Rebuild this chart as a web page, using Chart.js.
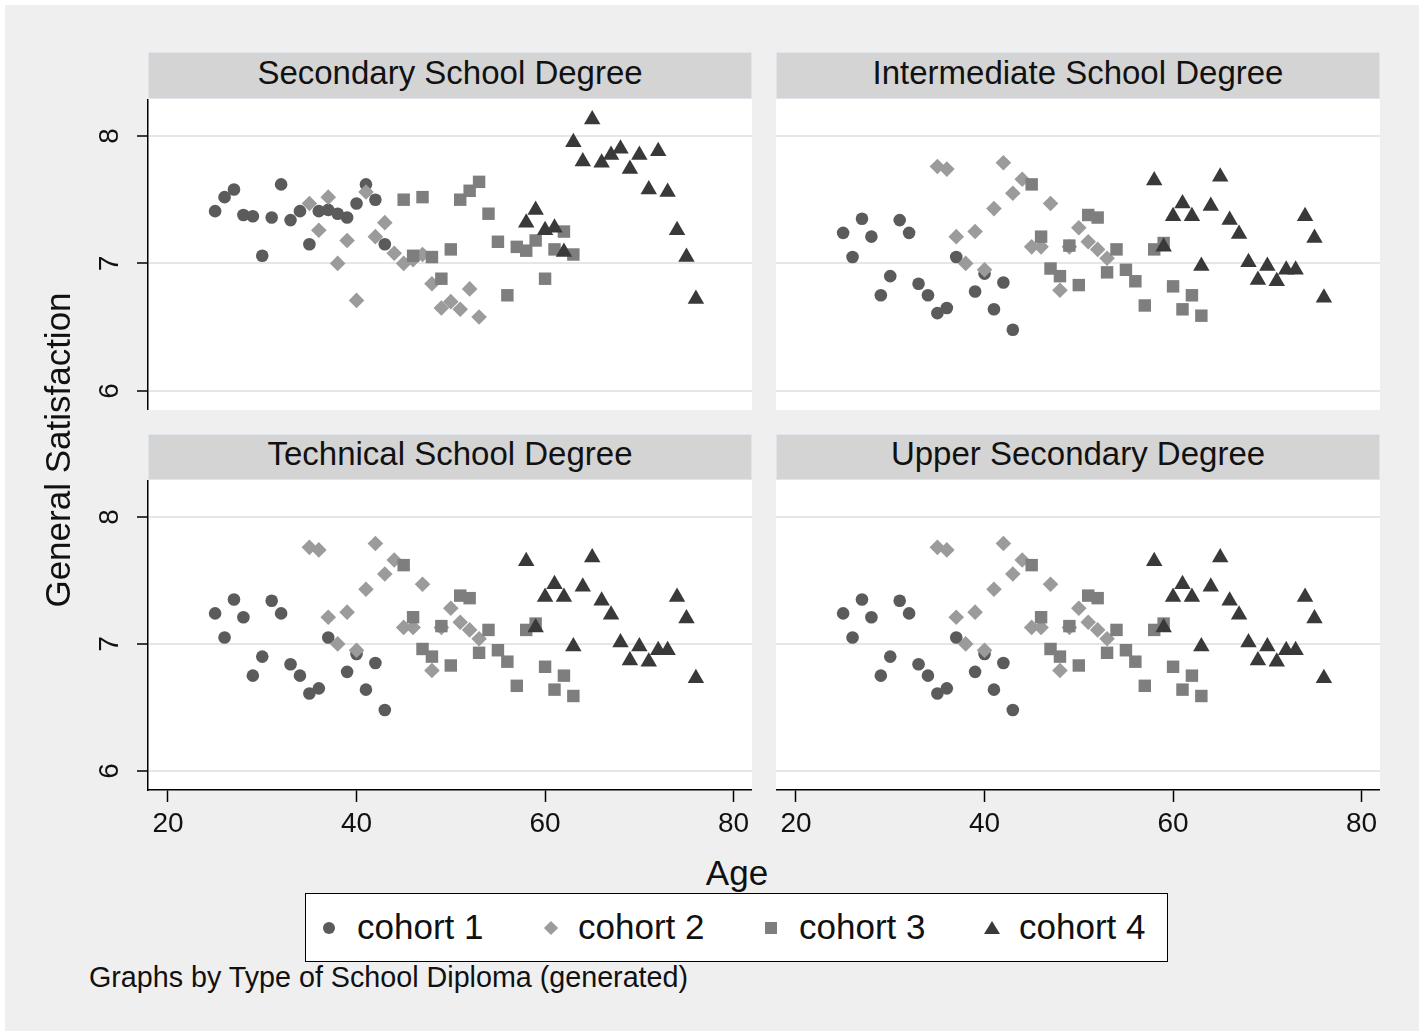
<!DOCTYPE html>
<html>
<head>
<meta charset="utf-8">
<script src="https://cdn.jsdelivr.net/npm/chart.js@4.4.1/dist/chart.umd.min.js"></script>
<style>
  body { margin: 0; background: #fff; font-family: 'Liberation Sans', Arial, sans-serif; color: #111; }
  #frame { position: absolute; left: 5px; top: 5px; width: 1414px; height: 1026px; background: #efefef; }
  .strip { position: absolute; width: 604px; background: #d4d4d4; border: 1px solid #e0e5eb; box-sizing: border-box; font-size: 33px; text-align: center; }
  .plot { position: absolute; width: 604px; height: 311px; background: #fff; }
  canvas { position: absolute; }
  .txt { position: absolute; white-space: nowrap; }
  #legend { position: absolute; left: 305px; top: 893px; width: 863px; height: 69px; background: #fff; border: 1.5px solid #000; box-sizing: border-box; }
  .mk { position: absolute; }
  .lt { position: absolute; top: 10px; font-size: 35px; line-height: 45px; }
</style>
</head>
<body>
<div id="frame"></div>

<div class="strip" style="left:148px;top:52px;height:47px;line-height:40px;">Secondary School Degree</div>
<div class="strip" style="left:776px;top:52px;height:47px;line-height:40px;">Intermediate School Degree</div>
<div class="strip" style="left:148px;top:434px;height:46px;line-height:37px;">Technical School Degree</div>
<div class="strip" style="left:776px;top:434px;height:46px;line-height:37px;">Upper Secondary Degree</div>

<div class="plot" style="left:148px;top:99px;"></div>
<div class="plot" style="left:776px;top:99px;"></div>
<div class="plot" style="left:148px;top:480px;height:310px;"></div>
<div class="plot" style="left:776px;top:480px;height:310px;"></div>

<canvas id="p1" width="682" height="311" style="left:70px;top:99px;"></canvas>
<canvas id="p2" width="604" height="311" style="left:776px;top:99px;"></canvas>
<canvas id="p3" width="682" height="360" style="left:70px;top:480px;"></canvas>
<canvas id="p4" width="604" height="360" style="left:776px;top:480px;"></canvas>

<div class="txt" style="left:-242px;top:430px;width:600px;height:40px;line-height:40px;text-align:center;font-size:35px;transform:rotate(-90deg);">General Satisfaction</div>
<div class="txt" style="left:637px;top:853px;width:200px;height:40px;line-height:40px;text-align:center;font-size:35px;">Age</div>

<div id="legend">
  <div class="mk" style="left:17px;top:28px;width:12px;height:12px;border-radius:50%;background:#5b5b5b;"></div>
  <div class="lt" style="left:51px;">cohort 1</div>
  <div class="mk" style="left:240px;top:29px;width:10px;height:10px;background:#9b9b9b;transform:rotate(45deg);"></div>
  <div class="lt" style="left:272px;">cohort 2</div>
  <div class="mk" style="left:459px;top:28px;width:12px;height:12px;background:#7e7e7e;"></div>
  <div class="lt" style="left:493px;">cohort 3</div>
  <div class="mk" style="left:678px;top:27px;width:0;height:0;border-left:8px solid transparent;border-right:8px solid transparent;border-bottom:13px solid #393939;"></div>
  <div class="lt" style="left:713px;">cohort 4</div>
</div>

<div class="txt" style="left:89px;top:961px;font-size:28.7px;line-height:32px;">Graphs by Type of School Diploma (generated)</div>

<script>
// panel titles (drawn in the strips above)
const panelTitles = ['Secondary School Degree', 'Intermediate School Degree', 'Technical School Degree', 'Upper Secondary Degree'];
const cohortNames = ['cohort 1', 'cohort 2', 'cohort 3', 'cohort 4'];
const xTicks = [20, 40, 60, 80];
const yTicks = [6, 7, 8];

// Secondary School Degree
const secAge1 = [25,26,27,28,29,30,31,32,33,34,35,36,37,38,39,40,41,42,43];
const secSat1 = [7.41,7.52,7.58,7.38,7.37,7.06,7.36,7.62,7.34,7.41,7.15,7.41,7.42,7.39,7.36,7.47,7.62,7.50,7.15];
const secAge2 = [35,36,37,38,39,40,41,42,43,44,45,46,47,48,49,50,51,52,53];
const secSat2 = [7.47,7.26,7.52,7.00,7.18,6.71,7.56,7.21,7.32,7.08,7.00,7.03,7.07,6.84,6.65,6.70,6.64,6.80,6.58];
const secAge3 = [45,46,47,48,49,50,51,52,53,54,55,56,57,58,59,60,61,62,63];
const secSat3 = [7.50,7.06,7.52,7.05,6.88,7.11,7.50,7.57,7.64,7.39,7.17,6.75,7.13,7.10,7.18,6.88,7.11,7.25,7.07];
const secAge4 = [58,59,60,61,62,63,64,65,66,67,68,69,70,71,72,73,74,75,76];
const secSat4 = [7.32,7.42,7.26,7.28,7.09,7.95,7.80,8.13,7.79,7.85,7.90,7.74,7.85,7.58,7.88,7.56,7.26,7.05,6.72];

// Intermediate / Technical / Upper Secondary (same values in all three panels)
const othAge1 = [25,26,27,28,29,30,31,32,33,34,35,36,37,39,40,41,42,43];
const othSat1 = [7.24,7.05,7.35,7.21,6.75,6.90,7.34,7.24,6.84,6.75,6.61,6.65,7.05,6.78,6.92,6.64,6.85,6.48];
const othAge2 = [35,36,37,38,39,40,41,42,43,44,45,46,47,48,49,50,51,52,53];
const othSat2 = [7.76,7.74,7.21,7.00,7.25,6.95,7.43,7.79,7.55,7.66,7.13,7.13,7.47,6.79,7.13,7.28,7.17,7.11,7.04];
const othAge3 = [45,46,47,48,49,50,51,52,53,54,55,56,57,58,59,60,61,62,63];
const othSat3 = [7.62,7.21,6.96,6.90,7.14,6.83,7.38,7.36,6.93,7.11,6.95,6.86,6.67,7.11,7.16,6.82,6.64,6.75,6.59];
const othAge4 = [58,59,60,61,62,63,64,65,66,67,68,69,70,71,72,73,74,75,76];
const othSat4 = [7.65,7.13,7.37,7.47,7.37,6.98,7.45,7.68,7.34,7.23,7.01,6.87,6.98,6.86,6.95,6.95,7.37,7.20,6.73];

const markerStyles = ['circle', 'rectRot', 'rect', 'triangle'];
const markerSizes = [6.3, 7.8, 8.8, 9.5];
const markerColors = ['#5b5b5b', '#9b9b9b', '#7e7e7e', '#393939'];
const tickFont = { family: "'Liberation Sans', Arial, sans-serif", size: 28 };

const secSets = [[secAge1, secSat1], [secAge2, secSat2], [secAge3, secSat3], [secAge4, secSat4]];
const othSets = [[othAge1, othSat1], [othAge2, othSat2], [othAge3, othSat3], [othAge4, othSat4]];

function makePanel(id, sets, showX, showY) {
  return new Chart(document.getElementById(id), {
    type: 'scatter',
    data: {
      datasets: sets.map(([ages, sats], i) => ({
        label: cohortNames[i],
        data: ages.map((a, k) => ({ x: a, y: sats[k] })),
        pointStyle: markerStyles[i],
        pointRadius: markerSizes[i],
        backgroundColor: markerColors[i],
        borderColor: markerColors[i],
        borderWidth: 0,
        order: 4 - i
      }))
    },
    options: {
      responsive: false,
      animation: false,
      layout: { padding: 0, autoPadding: false },
      plugins: { legend: { display: false }, tooltip: { enabled: false } },
      scales: {
        x: {
          type: 'linear', min: 17.88, max: 81.95, display: showX,
          afterBuildTicks: s => { s.ticks = xTicks.map(v => ({ value: v })); },
          afterFit: s => {
            s.height = showX ? 50 : 0;
            s.paddingLeft = s.paddingRight = 0;
          },
          grid: { drawOnChartArea: false, tickLength: 12, tickColor: '#000', tickWidth: 1.5 },
          border: { color: '#000', width: 1.5 },
          ticks: { font: tickFont, color: '#111', padding: 5, maxRotation: 0 }
        },
        y: {
          type: 'linear', min: 5.85, max: 8.29,
          afterBuildTicks: s => { s.ticks = yTicks.map(v => ({ value: v })); },
          afterFit: s => {
            s.width = showY ? 78 : 0;
            s.paddingTop = s.paddingBottom = 0;
          },
          grid: { color: '#e6e6e6', lineWidth: 2, drawTicks: showY, tickLength: 11, tickColor: '#000', tickWidth: 1.5 },
          border: { display: showY, color: '#000', width: 1.5 },
          ticks: { display: showY, font: tickFont, color: '#111', minRotation: 90, maxRotation: 90, crossAlign: 'center', padding: 19 }
        }
      }
    }
  });
}

makePanel('p1', secSets, false, true);
makePanel('p2', othSets, false, false);
makePanel('p3', othSets, true, true);
makePanel('p4', othSets, true, false);
</script>
</body>
</html>
